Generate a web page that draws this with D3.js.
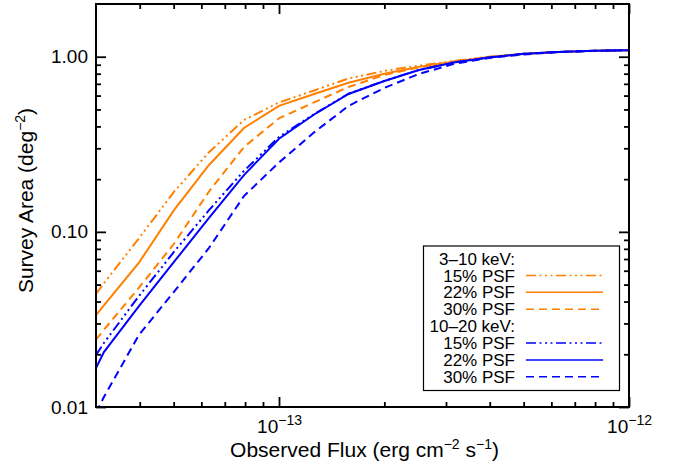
<!DOCTYPE html>
<html>
<head>
<meta charset="utf-8">
<script src="https://cdn.jsdelivr.net/npm/d3@7"></script>
<style>
  body { margin: 0; background: #fff; }
  svg { display: block; font-family: "Liberation Sans", Arial, Helvetica, sans-serif; }
</style>
</head>
<body>
<svg id="chart" width="681" height="466"></svg>
<script>
// observed flux grid (erg cm^-2 s^-1)
const flux = [3.0e-14, 3.16e-14, 3.98e-14, 5.01e-14, 6.31e-14, 7.94e-14, 1.0e-13, 1.26e-13,
  1.58e-13, 2.0e-13, 2.51e-13, 3.16e-13, 3.98e-13, 5.01e-13, 6.31e-13, 7.94e-13, 1.0e-12];

// survey area (deg^-2), 3-10 keV
const soft15 = [0.0442, 0.0508, 0.092, 0.169, 0.285, 0.435, 0.548, 0.642, 0.751, 0.83, 0.89, 0.946, 1.0, 1.04, 1.066, 1.08, 1.09];
const soft22 = [0.0335, 0.038, 0.0667, 0.133, 0.241, 0.392, 0.524, 0.613, 0.71, 0.80, 0.875, 0.934, 0.997, 1.04, 1.065, 1.08, 1.09];
const soft30 = [0.0243, 0.0276, 0.048, 0.0855, 0.17, 0.305, 0.445, 0.549, 0.672, 0.787, 0.868, 0.94, 0.99, 1.035, 1.065, 1.08, 1.09];
// survey area (deg^-2), 10-20 keV
const hard15 = [0.0198, 0.0232, 0.043, 0.0768, 0.133, 0.223, 0.348, 0.47, 0.615, 0.728, 0.84, 0.928, 0.99, 1.04, 1.065, 1.08, 1.09];
const hard22 = [0.0167, 0.0206, 0.0377, 0.0673, 0.12, 0.211, 0.34, 0.468, 0.613, 0.727, 0.84, 0.928, 0.99, 1.04, 1.065, 1.08, 1.09];
const hard30 = [0.0093, 0.0114, 0.0258, 0.0455, 0.081, 0.16, 0.249, 0.37, 0.524, 0.664, 0.797, 0.91, 0.984, 1.03, 1.065, 1.08, 1.09];

const xMajor = [1e-13, 1e-12];
const xMajorExp = ["\u221213", "\u221212"];
const xMinor = [4e-14, 5e-14, 6e-14, 7e-14, 8e-14, 9e-14, 2e-13, 3e-13, 4e-13, 5e-13, 6e-13, 7e-13, 8e-13, 9e-13];
const yMajor = [0.01, 0.1, 1];
const yMajorLabels = ["0.01", "0.10", "1.00"];
const yMinor = [0.02, 0.03, 0.04, 0.05, 0.06, 0.07, 0.08, 0.09, 0.2, 0.3, 0.4, 0.5, 0.6, 0.7, 0.8, 0.9];

const ORANGE = "#ff8000";
const BLUE = "#0000ff";
const DASHED = "8,5";
const DASH3DOT = "10,3.5,2,3.5,2,3.5,2,3.5";

const series = [
  { values: soft15, color: ORANGE, dash: DASH3DOT },
  { values: soft22, color: ORANGE, dash: null },
  { values: soft30, color: ORANGE, dash: DASHED },
  { values: hard15, color: BLUE, dash: DASH3DOT },
  { values: hard22, color: BLUE, dash: null },
  { values: hard30, color: BLUE, dash: DASHED },
];

// legend rows: heading rows have no line
const legendRows = [
  { label: "3\u201310 keV:" },
  { label: "15% PSF", s: 0 },
  { label: "22% PSF", s: 1 },
  { label: "30% PSF", s: 2 },
  { label: "10\u201320 keV:" },
  { label: "15% PSF", s: 3 },
  { label: "22% PSF", s: 4 },
  { label: "30% PSF", s: 5 },
];

const svg = d3.select("#chart");
const m = { left: 96, right: 629, top: 4, bottom: 407 };

const x = d3.scaleLog().domain([3e-14, 1e-12]).range([m.left, m.right]);
const y = d3.scaleLog().domain([0.01, 2]).range([m.bottom, m.top]);

svg.append("defs").append("clipPath").attr("id", "plot-clip")
  .append("rect")
  .attr("x", m.left).attr("y", m.top)
  .attr("width", m.right - m.left).attr("height", m.bottom - m.top);

// curves
const line = d3.line()
  .x((d, i) => x(flux[i]))
  .y((d) => y(d));

svg.append("g")
  .attr("clip-path", "url(#plot-clip)")
  .selectAll("path")
  .data(series)
  .join("path")
  .attr("fill", "none")
  .attr("stroke", (d) => d.color)
  .attr("stroke-width", 2)
  .attr("stroke-dasharray", (d) => d.dash)
  .attr("d", (d) => line(d.values));

// axes, ticks pointing inward on all four sides
function styleAxis(g) {
  g.select(".domain").remove();
  g.selectAll(".tick line").attr("stroke", "#000").attr("stroke-width", 1.8);
}

const fs = 19;

const bottom = svg.append("g").attr("transform", `translate(0,${m.bottom})`)
  .call(d3.axisBottom(x).tickValues(xMajor).tickSize(-10).tickFormat(""))
  .call(styleAxis);
bottom.selectAll(".tick text").each(function (d, i) {
  const t = d3.select(this).attr("y", 26).attr("dy", null)
    .attr("fill", "#000").attr("font-size", fs);
  t.append("tspan").text("10");
  t.append("tspan").attr("font-size", 14).attr("dy", -8).text(xMajorExp[i]);
});
svg.append("g").attr("transform", `translate(0,${m.bottom})`)
  .call(d3.axisBottom(x).tickValues(xMinor).tickSize(-5).tickFormat(""))
  .call(styleAxis);
svg.append("g").attr("transform", `translate(0,${m.top})`)
  .call(d3.axisTop(x).tickValues(xMajor).tickSize(-10).tickFormat(""))
  .call(styleAxis);
svg.append("g").attr("transform", `translate(0,${m.top})`)
  .call(d3.axisTop(x).tickValues(xMinor).tickSize(-5).tickFormat(""))
  .call(styleAxis);

svg.append("g").attr("transform", `translate(${m.left},0)`)
  .call(d3.axisLeft(y).tickValues(yMajor).tickSize(-10).tickPadding(8)
    .tickFormat((d, i) => yMajorLabels[i]))
  .call(styleAxis)
  .call((g) => g.selectAll(".tick text").attr("fill", "#000").attr("font-size", fs)
    .attr("font-family", null));
svg.append("g").attr("transform", `translate(${m.left},0)`)
  .call(d3.axisLeft(y).tickValues(yMinor).tickSize(-5).tickFormat(""))
  .call(styleAxis);
svg.append("g").attr("transform", `translate(${m.right},0)`)
  .call(d3.axisRight(y).tickValues(yMajor).tickSize(-10).tickFormat(""))
  .call(styleAxis);
svg.append("g").attr("transform", `translate(${m.right},0)`)
  .call(d3.axisRight(y).tickValues(yMinor).tickSize(-5).tickFormat(""))
  .call(styleAxis);

svg.selectAll("g.tick text").attr("font-family", null);

// frame
svg.append("rect")
  .attr("x", m.left).attr("y", m.top)
  .attr("width", m.right - m.left).attr("height", m.bottom - m.top)
  .attr("fill", "none").attr("stroke", "#000").attr("stroke-width", 2);

// axis titles
const xt = svg.append("text")
  .attr("x", (m.left + m.right) / 2 + 2).attr("y", 457)
  .attr("text-anchor", "middle").attr("font-size", 21);
xt.append("tspan").text("Observed Flux (erg cm");
xt.append("tspan").attr("font-size", 14).attr("dy", -8).text("\u22122");
xt.append("tspan").attr("dy", 8).text(" s");
xt.append("tspan").attr("font-size", 14).attr("dy", -8).text("\u22121");
xt.append("tspan").attr("dy", 8).text(")");

const yt = svg.append("text")
  .attr("transform", `translate(33,${(m.top + m.bottom) / 2 - 5}) rotate(-90)`)
  .attr("text-anchor", "middle").attr("font-size", 21);
yt.append("tspan").text("Survey Area (deg");
yt.append("tspan").attr("font-size", 14).attr("dy", -8).text("\u22122");
yt.append("tspan").attr("dy", 8).text(")");

// legend
const lg = svg.append("g");
lg.append("rect")
  .attr("x", 423.5).attr("y", 246)
  .attr("width", 196).attr("height", 144.5)
  .attr("fill", "#fff").attr("stroke", "#000").attr("stroke-width", 1.2);

const rowY = (i) => 258.5 + i * 16.9;
lg.selectAll("text")
  .data(legendRows)
  .join("text")
  .attr("x", 515)
  .attr("y", (d, i) => rowY(i))
  .attr("dy", "0.36em")
  .attr("text-anchor", "end")
  .attr("font-size", 17)
  .text((d) => d.label);

lg.selectAll("line")
  .data(legendRows.map((d, i) => ({ ...d, i })).filter((d) => d.s !== undefined))
  .join("line")
  .attr("x1", 526).attr("x2", 603)
  .attr("y1", (d) => rowY(d.i)).attr("y2", (d) => rowY(d.i))
  .attr("stroke", (d) => series[d.s].color)
  .attr("stroke-width", 1.5)
  .attr("stroke-dasharray", (d) => series[d.s].dash);
</script>
</body>
</html>
